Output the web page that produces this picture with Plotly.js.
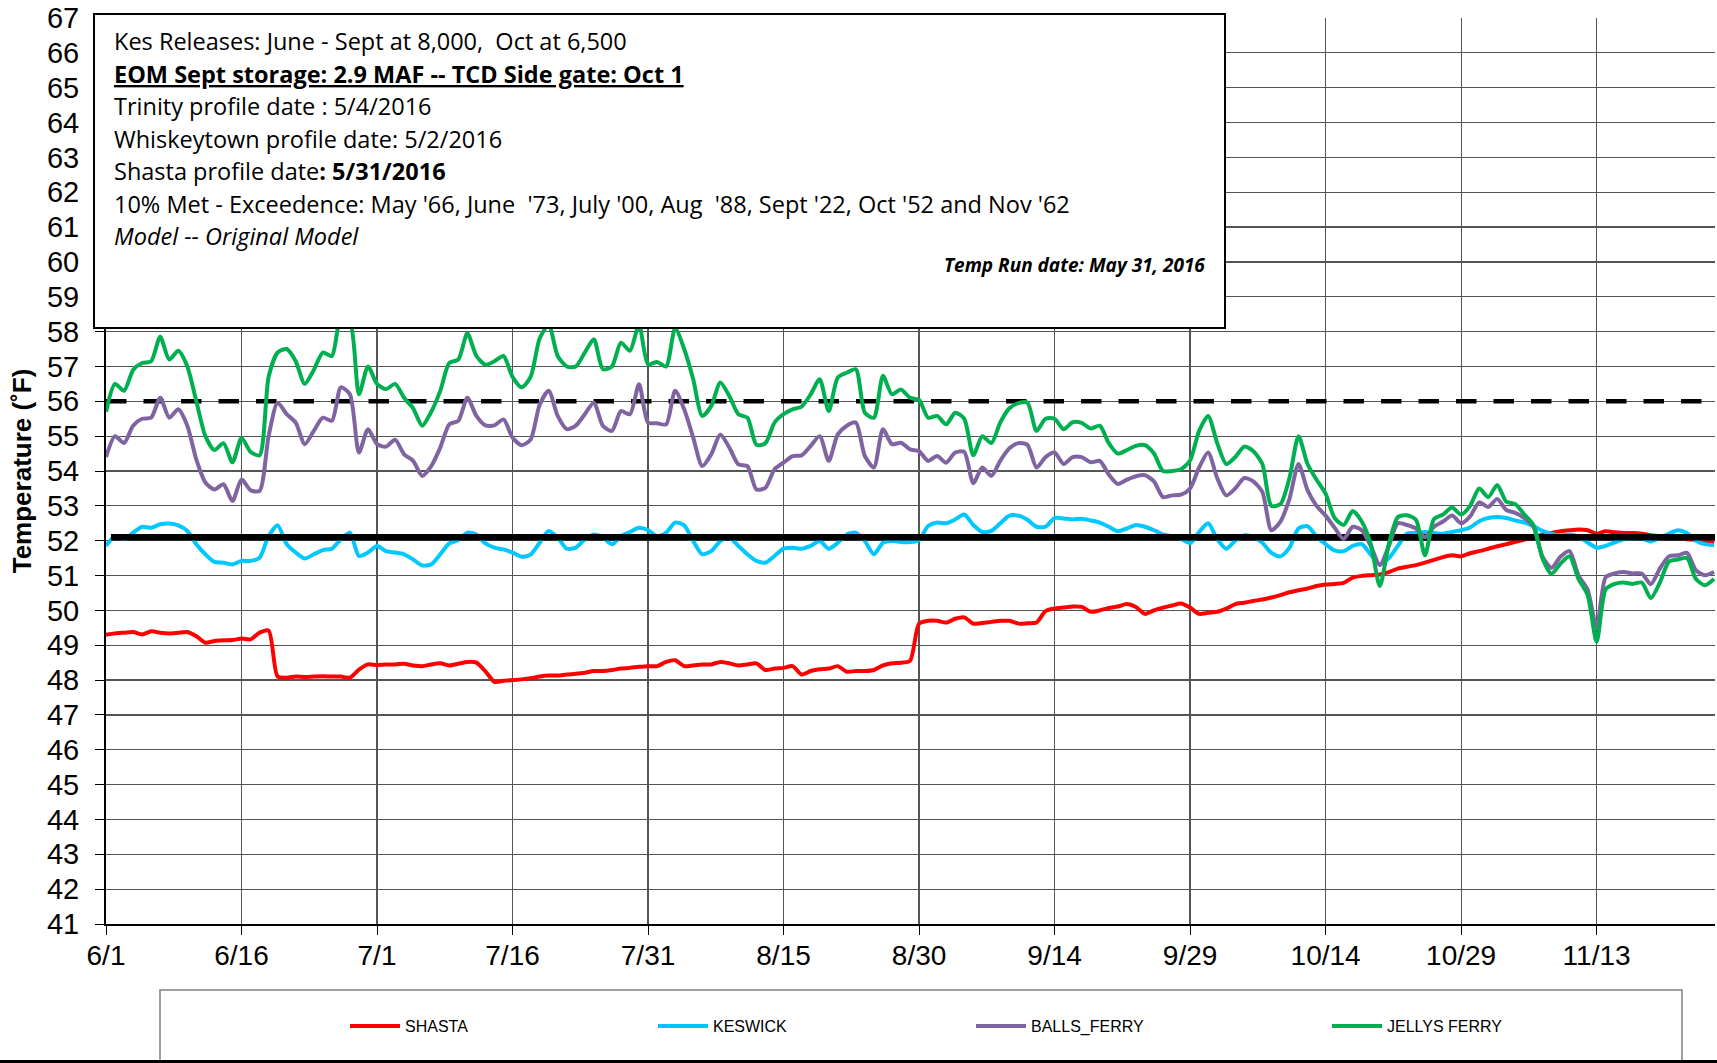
<!DOCTYPE html>
<html>
<head>
<meta charset="utf-8">
<script src="https://cdn.plot.ly/plotly-3.0.1.min.js"></script>
<style>html,body{margin:0;padding:0;background:#fff;}#chart{width:1717px;height:1063px;}</style>
</head>
<body>
<div id="chart"></div>
<script>
// ---------- DATA (daily values, 6/1/2016 .. 11/26/2016) ----------
const START_DATE = '2016-06-01';
const X_END = '2016-11-26 02:30';

const SHASTA = [
49.3,49.34,49.36,49.38,49.31,49.4,49.36,49.34,49.36,49.38,
49.26,49.07,49.12,49.14,49.15,49.19,49.17,49.36,49.42,48.1,
48.07,48.1,48.09,48.1,48.11,48.1,48.1,48.07,48.3,48.45,
48.43,48.45,48.45,48.47,48.42,48.4,48.45,48.48,48.42,48.47,
48.52,48.5,48.25,47.95,47.98,48.0,48.02,48.05,48.1,48.13,
48.13,48.16,48.18,48.21,48.26,48.26,48.29,48.33,48.35,48.38,
48.4,48.4,48.52,48.57,48.4,48.42,48.45,48.45,48.52,48.48,
48.42,48.45,48.48,48.29,48.33,48.35,48.4,48.16,48.26,48.31,
48.33,48.4,48.24,48.26,48.26,48.29,48.42,48.48,48.5,48.55,
49.62,49.7,49.7,49.65,49.76,49.8,49.62,49.64,49.67,49.7,
49.7,49.62,49.63,49.65,49.98,50.05,50.08,50.11,50.1,49.96,
50.0,50.07,50.11,50.18,50.1,49.9,50.0,50.08,50.14,50.2,
50.08,49.9,49.93,49.96,50.05,50.18,50.22,50.27,50.31,50.37,
50.44,50.52,50.58,50.63,50.7,50.74,50.76,50.79,50.94,50.99,
51.01,51.03,51.1,51.2,51.25,51.3,51.37,51.45,51.53,51.58,
51.55,51.64,51.7,51.77,51.84,51.9,51.97,52.03,52.1,52.17,
52.22,52.27,52.3,52.32,52.3,52.2,52.27,52.24,52.22,52.22,
52.2,52.16,52.13,52.1,52.07,52.04,52.02,51.98,51.94
];

const KESWICK = [
51.85,52.13,52.04,52.23,52.4,52.37,52.47,52.49,52.44,52.28,
51.9,51.61,51.39,51.37,51.32,51.42,51.42,51.51,52.13,52.44,
51.9,51.66,51.49,51.61,51.73,51.77,52.04,52.23,51.56,51.66,
51.85,51.7,51.66,51.61,51.46,51.29,51.32,51.61,51.92,52.02,
52.23,52.18,51.92,51.8,51.75,51.66,51.54,51.6,51.94,52.28,
52.09,51.77,51.8,52.04,52.18,52.09,51.9,52.13,52.25,52.37,
52.3,52.13,52.23,52.52,52.44,51.99,51.61,51.7,51.99,52.09,
51.85,51.61,51.42,51.37,51.56,51.77,51.8,51.77,51.85,51.99,
51.77,51.94,52.18,52.23,51.99,51.61,51.94,51.99,51.96,51.96,
52.02,52.42,52.52,52.5,52.61,52.75,52.45,52.25,52.28,52.5,
52.72,52.72,52.6,52.4,52.4,52.65,52.64,52.61,52.63,52.58,
52.52,52.4,52.27,52.35,52.45,52.4,52.3,52.18,52.12,52.05,
51.93,52.25,52.5,52.05,51.77,52.0,52.15,52.1,51.94,51.65,
51.55,51.8,52.35,52.42,52.12,51.9,51.72,51.7,51.85,51.9,
51.6,51.32,51.5,51.85,52.2,52.22,52.25,52.22,52.2,52.25,
52.3,52.38,52.56,52.65,52.68,52.65,52.58,52.52,52.42,52.28,
52.2,52.15,52.18,52.12,51.95,51.8,51.85,51.95,52.04,52.06,
52.06,51.98,52.08,52.2,52.3,52.22,52.0,51.9,51.87
];

const BALLS_FERRY = [
54.4,55.0,54.8,55.3,55.5,55.53,56.1,55.53,55.77,55.3,
54.33,53.67,53.47,53.62,53.14,53.76,53.45,53.43,55.0,55.96,
55.63,55.39,54.77,55.15,55.53,55.44,56.4,56.2,54.53,55.2,
54.77,54.7,54.9,54.48,54.29,53.86,54.14,54.67,55.34,55.44,
56.1,55.58,55.31,55.31,55.48,54.96,54.74,54.9,55.9,56.3,
55.58,55.2,55.3,55.63,55.96,55.3,55.15,55.72,55.63,56.49,
55.39,55.37,55.34,56.3,55.77,54.96,54.14,54.48,55.05,54.67,
54.19,54.14,53.47,53.52,54.05,54.24,54.43,54.45,54.72,55.0,
54.29,55.05,55.3,55.39,54.43,54.1,55.2,54.77,54.81,54.62,
54.57,54.29,54.43,54.24,54.53,54.55,53.65,54.1,53.86,54.3,
54.65,54.8,54.75,54.1,54.4,54.53,54.2,54.4,54.4,54.25,
54.29,53.9,53.63,53.75,53.85,53.88,53.7,53.25,53.3,53.32,
53.5,54.1,54.53,53.8,53.3,53.5,53.8,53.7,53.4,52.3,
52.55,53.2,54.2,53.45,53.0,52.72,52.37,52.05,52.4,52.3,
51.85,51.3,51.85,52.5,52.45,52.35,52.1,52.4,52.55,52.72,
52.5,52.7,53.1,52.97,53.2,52.88,52.8,52.65,52.4,51.55,
51.22,51.54,51.7,51.0,50.6,49.5,50.95,51.06,51.1,51.06,
51.06,50.75,51.2,51.55,51.58,51.65,51.15,51.01,51.1
];

const JELLYS_FERRY = [
55.7,56.5,56.3,56.9,57.1,57.15,57.85,57.2,57.45,57.0,
56.0,55.0,54.6,54.8,54.25,54.95,54.55,54.45,56.7,57.4,
57.5,57.15,56.5,56.9,57.4,57.3,58.4,58.3,56.2,57.0,
56.5,56.35,56.5,56.1,55.8,55.3,55.7,56.3,57.1,57.2,
57.95,57.3,57.05,57.15,57.3,56.7,56.4,56.7,57.8,58.2,
57.3,57.0,57.0,57.4,57.78,56.92,57.0,57.68,57.45,58.2,
57.06,57.13,57.0,58.1,57.5,56.63,55.58,55.87,56.54,56.15,
55.63,55.53,54.75,54.8,55.39,55.63,55.77,55.85,56.2,56.63,
55.72,56.68,56.82,56.92,55.67,55.53,56.73,56.2,56.34,56.1,
56.04,55.53,55.58,55.34,55.67,55.5,54.45,55.0,54.8,55.4,
55.8,55.95,55.96,55.15,55.5,55.5,55.2,55.4,55.38,55.22,
55.3,54.8,54.5,54.6,54.72,54.74,54.5,54.0,54.0,54.05,
54.3,55.15,55.58,54.8,54.2,54.4,54.7,54.57,54.2,53.0,
53.05,53.8,55.0,54.2,53.75,53.35,52.65,52.45,52.85,52.55,
51.9,50.7,51.9,52.68,52.73,52.6,51.58,52.62,52.75,52.95,
52.75,53.0,53.5,53.25,53.6,53.12,53.05,52.75,52.45,51.5,
51.05,51.34,51.55,50.9,50.45,49.1,50.6,50.76,50.8,50.76,
50.8,50.35,50.8,51.4,51.46,51.5,50.9,50.72,50.9
];

const THRESHOLD_SOLID = 52.1;   // solid black criterion line
const THRESHOLD_DASHED = 56;    // dashed black criterion line

const SERIES_NAMES = ['SHASTA', 'KESWICK', 'BALLS_FERRY', 'JELLYS FERRY'];
const SERIES_COLORS = ['#ff0000', '#00c8ff', '#8064a2', '#00b050'];

const NOTE_LINES = [
  "Kes Releases: June - Sept at 8,000,\u00a0 Oct at 6,500",
  "<b><u>EOM Sept storage: 2.9 MAF -- TCD Side gate: Oct 1</u></b>",
  "Trinity profile date : 5/4/2016",
  "Whiskeytown profile date: 5/2/2016",
  "Shasta profile date<b>: 5/31/2016</b>",
  "10% Met - Exceedence: May '66, June\u00a0 '73, July '00, Aug\u00a0 '88, Sept '22, Oct '52 and Nov '62",
  "<i>Model -- Original Model</i>"
];
const RUN_DATE_NOTE = "<b><i>Temp Run date: May 31, 2016</i></b>";
const Y_TITLE = "Temperature (˚F)";

// ---------- build ----------
function dayDate(i) {
  const d = new Date(Date.UTC(2016, 5, 1 + i));
  return d.toISOString().slice(0, 10);
}
const DATES = SHASTA.map((_, i) => dayDate(i));

const W = 1717, H = 1063;
const M = {l: 106, r: 2, t: 18, b: 139};
const PW = W - M.l - M.r, PH = H - M.t - M.b;
const px = x => (x - M.l) / PW;          // pixel -> paper x
const py = y => (H - M.b - y) / PH;      // pixel -> paper y

const values = [SHASTA, KESWICK, BALLS_FERRY, JELLYS_FERRY];
const legendIds = ['legend', 'legend2', 'legend3', 'legend4'];

const traces = [];
function seriesTrace(k) {
  return {
    type: 'scatter', mode: 'lines', x: DATES, y: values[k], name: SERIES_NAMES[k],
    line: {color: SERIES_COLORS[k], width: 4, shape: 'spline', smoothing: 0.7},
    legend: legendIds[k], hoverinfo: 'skip'
  };
}
traces.push(seriesTrace(0));
traces.push(seriesTrace(1));
traces.push({
  type: 'scatter', mode: 'lines', x: ['2016-06-01 13:00', '2016-11-30'],
  y: [THRESHOLD_SOLID, THRESHOLD_SOLID], showlegend: false,
  line: {color: '#000', width: 6.5}, hoverinfo: 'skip'
});
traces.push({
  type: 'scatter', mode: 'lines', x: [START_DATE, '2016-11-30'],
  y: [THRESHOLD_DASHED, THRESHOLD_DASHED], showlegend: false,
  line: {color: '#000', width: 4.5, dash: '20.5px,17px'}, hoverinfo: 'skip'
});
traces.push(seriesTrace(2));
traces.push(seriesTrace(3));

const FONT_AX = 'Liberation Sans, Arial, sans-serif';
const NOTE_FONT = 'Open Sans, Lato, sans-serif';
const LEG_ITEMW = 50;
const legendBase = {
  orientation: 'h', yanchor: 'middle', xanchor: 'left', y: py(1026),
  bgcolor: 'rgba(0,0,0,0)', borderwidth: 0, itemwidth: LEG_ITEMW,
  font: {family: FONT_AX, size: 16, color: '#000'}
};
const legendTextX = [405, 713, 1031, 1387];

const annotations = NOTE_LINES.map((t, i) => ({
  text: t, xref: 'paper', yref: 'paper', x: px(112), y: py(41.5 + i * 32.4),
  xanchor: 'left', yanchor: 'middle', showarrow: false, align: 'left',
  font: {family: NOTE_FONT, size: 23.5, color: '#000'}
}));
annotations.push({
  text: RUN_DATE_NOTE, xref: 'paper', yref: 'paper', x: px(1207), y: py(265),
  xanchor: 'right', yanchor: 'middle', showarrow: false,
  font: {family: NOTE_FONT, size: 19, color: '#000'}
});

const layout = {
  width: W, height: H,
  margin: M,
  paper_bgcolor: '#fff', plot_bgcolor: '#fff',
  showlegend: true,
  xaxis: {
    type: 'date', range: [START_DATE, X_END],
    tick0: START_DATE, dtick: 15 * 86400000, tickformat: '%-m/%-d',
    showgrid: true, gridcolor: '#555', gridwidth: 1.2,
    showline: true, linecolor: '#000', linewidth: 2,
    ticks: 'outside', ticklen: 9, tickwidth: 1, tickcolor: '#000',
    tickfont: {family: FONT_AX, size: 28, color: '#000'},
    ticklabelstandoff: -4, zeroline: false
  },
  yaxis: {
    range: [41, 67], dtick: 1, tick0: 41,
    showgrid: true, gridcolor: '#555', gridwidth: 1.2,
    showline: true, linecolor: '#000', linewidth: 2,
    ticks: 'outside', ticklen: 9, tickwidth: 1, tickcolor: '#000',
    tickfont: {family: FONT_AX, size: 29, color: '#000'},
    ticklabelstandoff: 10, zeroline: false,
    title: {text: Y_TITLE + '\u00a0\u00a0\u00a0', font: {family: FONT_AX, size: 26, color: '#000', weight: 'bold'}, standoff: 8}
  },
  shapes: [
    // notes box
    {type: 'rect', xref: 'paper', yref: 'paper', layer: 'above',
     x0: px(94), x1: px(1225), y0: py(328), y1: py(14),
     fillcolor: '#fff', line: {color: '#000', width: 2}},
    // legend frame
    {type: 'rect', xref: 'paper', yref: 'paper', layer: 'above',
     x0: px(160), x1: px(1682), y0: py(1075), y1: py(990),
     fillcolor: 'rgba(0,0,0,0)', line: {color: '#808080', width: 1.5}},
    // chart-area bottom border
    {type: 'line', xref: 'paper', yref: 'paper', layer: 'above',
     x0: px(0), x1: px(1717), y0: py(1061.5), y1: py(1061.5),
     line: {color: '#000', width: 3}}
  ],
  annotations: annotations
};
legendIds.forEach((id, k) => {
  layout[id] = Object.assign({}, legendBase, {x: px(legendTextX[k] - LEG_ITEMW - 10)});
});

Plotly.newPlot('chart', traces, layout, {displayModeBar: false, staticPlot: true});
</script>
</body>
</html>
